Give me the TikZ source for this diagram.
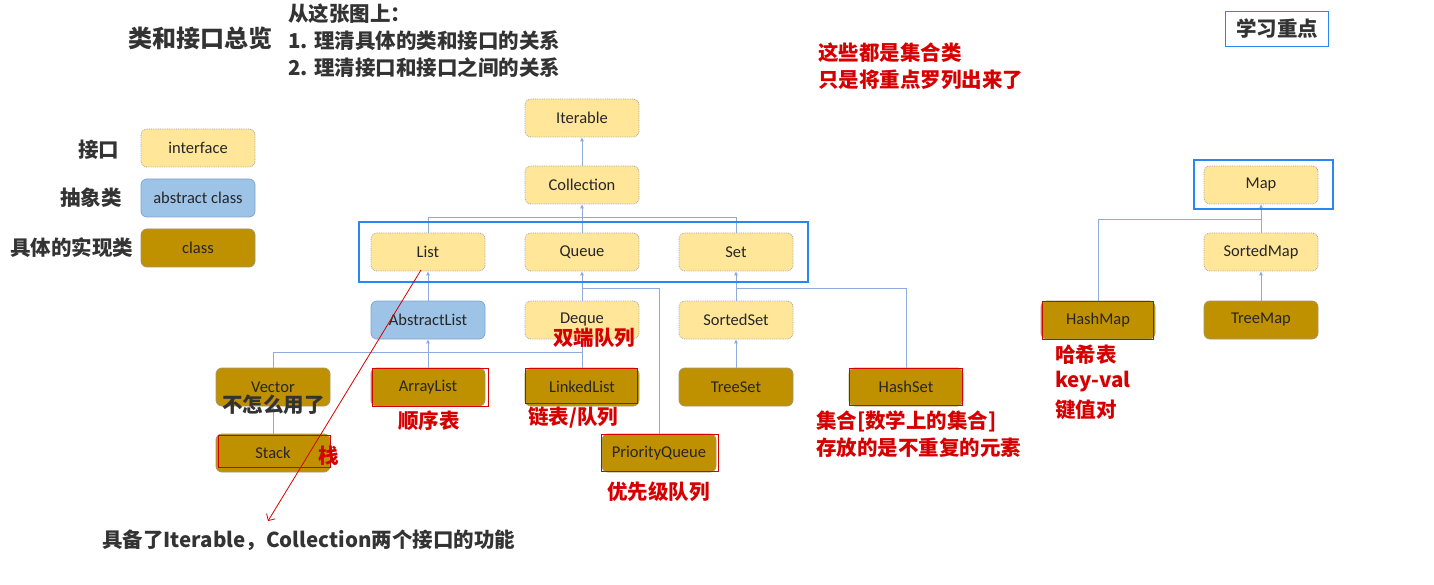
\documentclass[tikz,border=0pt]{standalone}
\usepackage{fontspec}
\setmainfont{Carlito}
\newfontfamily\cjk{Noto Sans CJK SC}
\usetikzlibrary{arrows.meta}
\definecolor{ifill}{RGB}{255,230,153}
\definecolor{iline}{RGB}{165,165,165}
\definecolor{afill}{RGB}{157,195,230}
\definecolor{aline}{RGB}{130,165,205}
\definecolor{cfill}{RGB}{191,144,0}
\definecolor{cline}{RGB}{165,150,110}
\definecolor{connc}{RGB}{143,170,220}
\definecolor{hl}{RGB}{40,135,240}
\definecolor{ann}{RGB}{215,0,0}
\definecolor{dk}{RGB}{51,51,51}
\definecolor{ntext}{RGB}{38,38,38}
\tikzset{
 base/.style={rounded corners=6pt, minimum width=114pt, minimum height=38pt, font=\fontsize{16.5}{19}\selectfont, text=ntext, inner sep=0pt},
 iface/.style={base, fill=ifill, draw=iline, densely dotted, line width=0.8pt},
 absc/.style={base, fill=afill, draw=aline, line width=0.8pt},
 cls/.style={base, fill=cfill, draw=cline, line width=0.8pt},
 conn/.style={draw=connc, line width=1pt},
 arr/.style={conn, -{Triangle[length=4pt,width=3.5pt]}},
 hlbox/.style={draw=hl, line width=1.5pt},
 redbox/.style={draw=ann, line width=1pt},
 note/.style={font=\cjk\bfseries\fontsize{20.5}{24}\selectfont, anchor=west, inner sep=0pt},
 rnote/.style={note, text=ann},
 dnote/.style={note, text=dk},
}
\begin{document}
\begin{tikzpicture}[x=1pt,y=-1pt]
\useasboundingbox[fill=white] (0,0) rectangle (1434,585);
% titles
\node[dnote, font=\cjk\bfseries\fontsize{24}{27}\selectfont] (title) at (128,38) {类和接口总览};
\node[dnote] (t1) at (288,14) {从这张图上：};
\node[dnote] (t2) at (288,41) {1. 理清具体的类和接口的关系};
\node[dnote] (t3) at (288,68) {2. 理清接口和接口之间的关系};
\node[rnote] (r1) at (818,53) {这些都是集合类};
\node[rnote] (r2) at (818,80) {只是将重点罗列出来了};
\node[note, anchor=center, text=dk, draw=hl, line width=1.5pt, minimum width=103pt, minimum height=35pt] (key) at (1277,29) {学习重点};
% legend
\node[iface] (lg1) at (198,148) {interface};
\node[absc] (lg2) at (198,198) {abstract class};
\node[cls] (lg3) at (198,248) {class};
\node[dnote] (lt1) at (78,150) {接口};
\node[dnote] (lt2) at (60,198) {抽象类};
\node[dnote] (lt3) at (10,248) {具体的实现类};
% hierarchy
\node[iface] (Iterable) at (582,118) {Iterable};
\node[iface] (Collection) at (582,185) {Collection};
\node[iface] (List) at (428,252) {List};
\node[iface] (Queue) at (582,252) {Queue};
\node[iface] (Set) at (736,252) {Set};
\node[absc] (AbstractList) at (428,320) {AbstractList};
\node[iface] (Deque) at (582,320) {Deque};
\node[iface] (SortedSet) at (736,320) {SortedSet};
\node[cls] (Vector) at (273,387) {Vector};
\node[cls] (ArrayList) at (428,387) {ArrayList};
\node[cls] (LinkedList) at (582,387) {LinkedList};
\node[cls] (TreeSet) at (736,387) {TreeSet};
\node[cls] (HashSet) at (906,387) {HashSet};
\node[cls] (Stack) at (273,453) {Stack};
\node[cls] (PriorityQueue) at (659,453) {PriorityQueue};
\node[iface] (Map) at (1261,185) {Map};
\node[iface] (SortedMap) at (1261,252) {SortedMap};
\node[cls] (HashMap) at (1098,320) {HashMap};
\node[cls] (TreeMap) at (1261,320) {TreeMap};
% junctions
\coordinate (j1) at (582,218);
\coordinate (j2) at (582,288);
\coordinate (j3) at (736,288);
\coordinate (j4) at (428,352);
\coordinate (j5) at (1261,220);
% connectors
\draw[arr] (Collection) -- (Iterable);
\draw[conn] (List.north) |- (j1);
\draw[conn] (Set.north) |- (j1);
\draw[arr] (Queue) -- (Collection);
\draw[arr] (AbstractList) -- (List);
\draw[arr] (Deque) -- (Queue);
\draw[conn] (PriorityQueue.north) |- (j2);
\draw[arr] (SortedSet) -- (Set);
\draw[conn] (HashSet.north) |- (j3);
\draw[conn] (Vector.north) |- (j4);
\draw[conn] (LinkedList.north) |- (j4);
\draw[arr] (ArrayList) -- (AbstractList);
\draw[arr] (LinkedList) -- (Deque);
\draw[arr] (TreeSet) -- (SortedSet);
\draw[arr] (Stack) -- (Vector);
\draw[conn] (HashMap.north) |- (j5);
\draw[arr] (SortedMap) -- (Map);
\draw[arr] (TreeMap) -- (SortedMap);
% highlight boxes
\draw[hlbox] (359,222) rectangle (808,282);
\draw[hlbox] (1194,160) rectangle (1333,209);
% red boxes
\draw[redbox] (372,368) rectangle (488,406);
\draw[redbox] (525,368) rectangle (637,403);
\draw[redbox] (849,368) rectangle (962,405);
\draw[redbox] (601,434) rectangle (718,471);
\draw[redbox] (218,435) rectangle (330,467);
\draw[redbox] (1042,301) rectangle (1153,339);
% annotations
\node[rnote] (a1) at (553,338) {双端队列};
\node[dnote] (a2) at (222,405) {不怎么用了};
\node[rnote] (a3) at (398,421) {顺序表};
\node[rnote] (a4) at (528,418) {链表/队列};
\node[rnote] (a5) at (318,456) {栈};
\node[rnote] (a6) at (607,492) {优先级队列};
\node[rnote] (a7) at (816,421) {集合[数学上的集合]};
\node[rnote] (a8) at (816,448) {存放的是不重复的元素};
\node[rnote] (a9) at (1055,355) {哈希表};
\node[rnote] (a10) at (1055,382) {key-val};
\node[rnote] (a11) at (1055,410) {键值对};
\node[dnote] (a12) at (102,540) {具备了Iterable，Collection两个接口的功能};
% red arrow
\coordinate (ra) at (421,270);
\coordinate (rb) at (268,521);
\draw[draw=ann, line width=0.8pt, -{Straight Barb[length=5pt]}] (ra) -- (rb);
\end{tikzpicture}
\end{document}
